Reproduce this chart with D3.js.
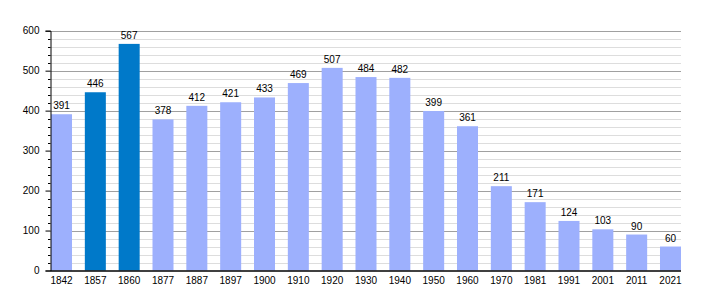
<!DOCTYPE html>
<html><head><meta charset="utf-8">
<script src="https://cdn.jsdelivr.net/npm/d3@7"></script>
<style>body{margin:0;background:#fff}svg{display:block}text{font-family:"Liberation Sans",Arial,sans-serif;font-size:10px;fill:#000}</style>
</head><body><svg id="c" width="710" height="300"></svg>
<script>
const years = ["1842","1857","1860","1877","1887","1897","1900","1910","1920","1930","1940","1950","1960","1970","1981","1991","2001","2011","2021"];
const population = [391,446,567,378,412,421,433,469,507,484,482,399,361,211,171,124,103,90,60];
const highlighted = ["1857","1860"];
const yTicks = [0,100,200,300,400,500,600];

const svg = d3.select("#c");
const L = 50.5, R = 681, T = 30.7, B = 270.5;
const FONT = "Liberation Sans, Arial, sans-serif";
const x = d3.scaleBand().domain(years).range([51, 681]).paddingInner(0.379).paddingOuter(0).align(0);
const y = d3.scaleLinear().domain([0, 600]).range([B, T]);

// minor grid
const minor = d3.range(0, 601, 20).filter(v => v % 100 !== 0);
svg.append("g").selectAll("line").data(minor).join("line")
  .attr("x1", L).attr("x2", R).attr("y1", d => Math.round(y(d)) + 0.5).attr("y2", d => Math.round(y(d)) + 0.5)
  .attr("stroke", "#dddddd").attr("stroke-width", 1);
svg.append("g").selectAll("line").data(yTicks.filter(v => v > 0)).join("line")
  .attr("x1", L).attr("x2", R).attr("y1", d => Math.round(y(d)) + 0.5).attr("y2", d => Math.round(y(d)) + 0.5)
  .attr("stroke", "#a0a0a0").attr("stroke-width", 1);

// bars
svg.append("g").selectAll("rect").data(years).join("rect")
  .attr("x", d => x(d)).attr("width", x.bandwidth())
  .attr("y", (d, i) => y(population[i])).attr("height", (d, i) => B - y(population[i]))
  .attr("fill", d => highlighted.includes(d) ? "#0079c9" : "#9db0fd");

// value labels
svg.append("g").selectAll("text").data(years).join("text")
  .attr("x", d => x(d) + x.bandwidth() / 2).attr("y", (d, i) => y(population[i]) - 5)
  .attr("text-anchor", "middle").text((d, i) => population[i]);

// y axis
const yAxis = d3.axisLeft(y).tickValues(yTicks).tickSize(5).tickPadding(6);
const gy = svg.append("g").attr("transform", `translate(${L},0)`).call(yAxis);
gy.selectAll("text").style("font-size", "10px").style("font-family", FONT).attr("fill", "#000");
gy.selectAll("line").attr("stroke", "#000");
gy.select(".domain").attr("stroke", "#000");
// minor ticks
svg.append("g").selectAll("line").data(minor).join("line")
  .attr("x1", L - 2.5).attr("x2", L).attr("y1", d => Math.round(y(d)) + 0.5).attr("y2", d => Math.round(y(d)) + 0.5)
  .attr("stroke", "#000");

// x axis
const xAxis = d3.axisBottom(x).tickSize(0).tickPadding(6);
const gx = svg.append("g").attr("transform", `translate(0,${B})`).call(xAxis);
gx.select(".domain").attr("d", `M${L},0.5H${R}`).attr("stroke", "#000").attr("stroke-width", 1.5);
gx.selectAll("text").style("font-size", "10px").style("font-family", FONT).attr("fill", "#000");
</script></body></html>
